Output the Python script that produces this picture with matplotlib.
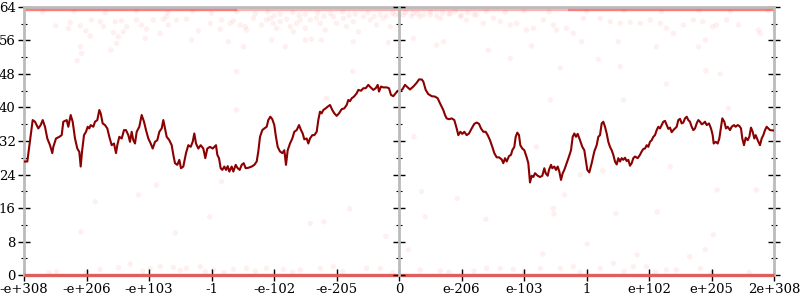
import numpy as np
import matplotlib
import matplotlib.pyplot as plt

matplotlib.use('Agg')

plt.rcParams['font.family'] = ['DejaVu Serif']

# x axis: 13 evenly spaced positions over the float bit range
tick_labels = ["-e+308", "-e+206", "-e+103", "-1", "-e-102", "-e-205", "0",
               "e-206", "e-103", "1", "e+102", "e+205", "2e+308"]

# moving average line
line_x = [0.0, 0.053, 0.139, 0.176, 0.229, 0.267, 0.299, 0.336, 0.373, 0.416, 0.453, 0.469, 0.512, 0.565,
          0.603, 0.629, 0.683, 0.709, 0.747, 0.779, 0.816, 0.853, 0.885, 0.907, 0.928, 0.96, 0.992, 1.019,
          1.045, 1.067, 1.109, 1.136, 1.173, 1.205, 1.227, 1.259, 1.296, 1.333, 1.365, 1.403, 1.44, 1.472,
          1.493, 1.525, 1.563, 1.6, 1.632, 1.669, 1.696, 1.723, 1.749, 1.776, 1.803, 1.845, 1.883, 1.92,
          1.952, 1.989, 2.027, 2.059, 2.096, 2.133, 2.165, 2.203, 2.229, 2.256, 2.283, 2.325, 2.363, 2.389,
          2.416, 2.453, 2.485, 2.512, 2.549, 2.592, 2.629, 2.667, 2.699, 2.725, 2.752, 2.789, 2.827, 2.869,
          2.901, 2.933, 2.976, 3.019, 3.072, 3.093, 3.12, 3.147, 3.173, 3.205, 3.232, 3.259, 3.285, 3.323,
          3.349, 3.387, 3.419, 3.451, 3.483, 3.515, 3.547, 3.589, 3.643, 3.685, 3.723, 3.749, 3.776, 3.813,
          3.845, 3.883, 3.909, 3.941, 3.973, 4.005, 4.027, 4.059, 4.096, 4.133, 4.165, 4.192, 4.219, 4.256,
          4.293, 4.325, 4.363, 4.4, 4.432, 4.459, 4.485, 4.523, 4.549, 4.576, 4.613, 4.645, 4.683, 4.709,
          4.736, 4.763, 4.789, 4.827, 4.859, 4.896, 4.933, 4.965, 5.003, 5.04, 5.083, 5.125, 5.163, 5.189,
          5.216, 5.243, 5.28, 5.323, 5.349, 5.392, 5.429, 5.467, 5.509, 5.547, 5.589, 5.627, 5.659, 5.68,
          5.712, 5.749, 5.803, 5.84, 5.872, 5.909, 5.947, 5.979, 6.016, 6.053, 6.096, 6.139, 6.176, 6.229,
          6.283, 6.32, 6.363, 6.389, 6.427, 6.469, 6.523, 6.576, 6.619, 6.656, 6.683, 6.709, 6.736, 6.763,
          6.8, 6.843, 6.885, 6.923, 6.949, 6.981, 7.013, 7.045, 7.083, 7.12, 7.163, 7.205, 7.243, 7.28,
          7.312, 7.349, 7.387, 7.419, 7.456, 7.493, 7.525, 7.563, 7.6, 7.643, 7.669, 7.696, 7.723, 7.76,
          7.792, 7.813, 7.845, 7.867, 7.893, 7.92, 7.941, 7.973, 8.005, 8.043, 8.069, 8.096, 8.123, 8.149,
          8.176, 8.219, 8.256, 8.293, 8.325, 8.347, 8.379, 8.4, 8.432, 8.453, 8.485, 8.512, 8.539, 8.565,
          8.592, 8.619, 8.645, 8.683, 8.72, 8.752, 8.779, 8.805, 8.832, 8.859, 8.896, 8.933, 8.965, 8.989,
          9.013, 9.045, 9.083, 9.125, 9.163, 9.189, 9.216, 9.243, 9.269, 9.296, 9.323, 9.349, 9.376, 9.403,
          9.429, 9.456, 9.483, 9.509, 9.536, 9.563, 9.589, 9.616, 9.643, 9.669, 9.696, 9.723, 9.749, 9.776,
          9.819, 9.856, 9.883, 9.909, 9.936, 9.963, 9.989, 10.016, 10.043, 10.069, 10.096, 10.123, 10.149,
          10.176, 10.203, 10.229, 10.256, 10.283, 10.309, 10.336, 10.363, 10.389, 10.416, 10.443, 10.469,
          10.496, 10.523, 10.549, 10.576, 10.603, 10.629, 10.656, 10.683, 10.709, 10.736, 10.763, 10.789,
          10.816, 10.843, 10.869, 10.896, 10.923, 10.96, 10.992, 11.019, 11.035, 11.067, 11.099, 11.125,
          11.152, 11.173, 11.205, 11.232, 11.259, 11.296, 11.323, 11.36, 11.387, 11.419, 11.445, 11.472,
          11.493, 11.52, 11.547, 11.579, 11.605, 11.632, 11.659, 11.685, 11.707, 11.739, 11.776, 11.803,
          11.829, 11.856, 11.883, 11.909, 11.936, 11.989, 12.0]
line_y = [27.1, 27.1, 37.0, 36.6, 35.0, 35.8, 37.0, 35.4, 32.6, 31.0, 29.1, 30.6, 32.6, 33.0,
          33.4, 36.6, 37.0, 35.4, 38.2, 36.6, 32.6, 30.2, 29.4, 25.9, 29.4, 33.4, 34.2, 35.4,
          35.0, 35.8, 35.4, 36.6, 37.0, 39.4, 38.6, 36.2, 35.8, 35.0, 33.0, 31.0, 31.4, 29.1,
          31.0, 33.0, 32.6, 34.6, 34.6, 33.4, 31.8, 34.2, 32.2, 31.4, 34.2, 35.4, 38.2, 36.6,
          34.6, 32.6, 31.4, 30.2, 31.8, 32.2, 34.2, 35.0, 37.0, 35.0, 33.0, 32.2, 31.0, 28.7,
          26.7, 26.3, 27.5, 25.5, 25.9, 29.1, 31.0, 30.6, 31.8, 33.8, 31.4, 30.2, 31.0, 30.2,
          27.9, 30.2, 30.6, 30.2, 31.0, 28.7, 27.9, 25.5, 25.1, 25.9, 25.1, 26.0, 24.7, 25.9,
          24.7, 26.3, 25.5, 25.1, 26.3, 26.7, 25.5, 25.6, 25.9, 26.3, 27.1, 29.5, 33.0, 34.6,
          35.0, 35.4, 37.0, 37.8, 37.2, 35.8, 33.4, 30.6, 29.5, 29.1, 29.8, 26.3, 29.8, 31.4,
          32.6, 34.2, 34.6, 35.8, 34.6, 33.8, 32.4, 32.6, 31.4, 32.6, 33.4, 33.4, 34.2, 37.0,
          39.0, 38.6, 39.4, 39.8, 40.2, 40.6, 39.4, 38.6, 38.0, 38.6, 39.6, 39.8, 40.6, 41.8,
          41.5, 42.2, 42.6, 43.4, 44.2, 44.0, 44.6, 44.6, 45.4, 44.8, 44.2, 44.6, 45.4, 43.8,
          45.0, 44.8, 44.8, 44.6, 43.0, 42.7, 43.4, 44.0, 44.0, 44.3, 45.4, 44.8, 44.3, 45.0,
          45.9, 46.7, 46.7, 46.2, 44.2, 43.2, 42.7, 42.6, 42.2, 41.0, 40.2, 39.4, 38.2, 37.4,
          37.2, 37.4, 37.0, 35.0, 33.4, 34.2, 33.7, 34.2, 33.4, 33.8, 35.0, 36.1, 36.4, 36.1,
          35.0, 34.2, 34.2, 33.4, 32.2, 30.6, 29.1, 28.1, 28.1, 27.6, 26.7, 27.9, 27.1, 28.4,
          28.7, 29.8, 30.6, 33.0, 34.0, 33.4, 31.0, 30.2, 29.8, 28.1, 26.7, 22.1, 23.7, 23.4,
          24.3, 23.7, 23.4, 23.7, 25.5, 24.3, 23.7, 25.1, 26.3, 25.5, 25.9, 25.1, 25.9, 24.7,
          22.7, 24.3, 25.1, 26.7, 28.3, 29.8, 33.0, 33.8, 33.0, 33.7, 32.2, 30.6, 29.8, 27.5,
          25.1, 24.5, 26.7, 29.5, 31.0, 33.0, 33.4, 36.2, 36.6, 35.4, 33.8, 31.8, 30.6, 29.8,
          28.7, 27.1, 26.4, 27.9, 27.1, 27.9, 27.5, 28.0, 27.2, 27.5, 26.1, 26.7, 27.9, 28.3,
          27.9, 28.7, 29.5, 30.1, 30.2, 31.0, 30.6, 31.8, 32.2, 33.0, 33.4, 34.6, 35.4,
          35.0, 35.8, 36.6, 36.8, 35.8, 34.9, 35.2, 34.1, 34.6, 35.0, 35.4, 37.0,
          37.3, 36.2, 36.4, 37.4, 37.8, 37.0, 36.6, 35.4, 34.6, 35.0, 36.2, 37.0,
          36.6, 36.0, 36.2, 36.6, 35.8, 36.2, 35.0, 33.4, 31.4, 31.8, 31.4, 32.6,
          35.4, 37.4, 36.6, 35.0, 35.4, 34.6, 35.4, 35.8, 35.4, 35.8, 35.6, 35.0,
          32.6, 31.0, 32.8, 32.2, 33.0, 35.2, 34.2, 32.6, 33.4, 32.2, 31.0, 32.6,
          33.4, 34.6, 35.4, 35.0, 34.6, 34.5, 34.5]

# individual samples near the top (high counts)
top_x = [0.51, 0.74, 0.71, 0.90, 0.99, 1.06, 1.08, 1.22, 1.27, 1.43, 1.46, 1.56, 1.59, 1.64, 1.80, 1.88,
         1.94, 1.96, 2.07, 2.23, 2.28, 2.31, 2.44, 2.60, 2.79, 2.98, 3.14, 3.16, 3.30, 3.35, 3.46, 3.54,
         3.56, 3.67, 3.80, 3.88, 3.94, 3.99, 4.04, 4.10, 4.20, 4.26, 4.31, 4.36, 4.42, 4.50, 4.58, 4.68,
         4.74, 4.82, 4.95, 5.00, 5.11, 5.16, 5.27, 5.35, 5.43, 5.54, 5.64, 5.75, 5.86, 5.94,
         6.07, 6.23, 6.34, 6.50, 6.66, 6.82, 6.98, 7.08, 7.24, 7.35, 7.51, 7.62, 7.78, 7.88, 8.04, 8.15,
         8.31, 8.47, 8.52, 8.68, 8.79, 8.95, 9.22, 9.38, 9.54, 9.70, 9.86, 10.02, 10.18, 10.28, 10.39,
         10.55, 10.71, 10.86, 11.02, 11.08, 11.24, 11.43, 11.75, 11.78,
         0.3, 0.8, 1.3, 1.8, 2.3, 2.7, 3.0, 3.4, 3.7, 3.9, 4.1, 4.3, 4.5, 4.7, 4.9, 5.1, 5.3, 5.5, 5.7,
         5.9, 6.1, 6.3, 6.5, 6.7, 6.9, 7.1, 7.4, 7.7, 8.0, 8.4, 9.0, 9.6, 10.2, 10.8, 11.3, 11.9,
         4.0, 4.4, 4.8, 5.2, 5.6, 5.8, 6.0, 6.2, 6.4, 6.6, 6.8, 7.0, 7.2]
top_y = [59.5, 60.3, 58.9, 59.5, 58.3, 57.1, 60.9, 60.5, 59.3, 57.9, 60.5, 60.7, 58.1, 59.3, 60.9, 59.7,
         56.5, 58.7, 60.9, 61.1, 61.7, 59.7, 60.9, 61.1, 58.3, 60.1, 58.7, 60.9, 60.1, 60.7, 59.7, 59.3,
         58.5, 61.3, 59.7, 60.9, 61.3, 60.1, 58.9, 60.5, 61.1, 59.3, 58.1, 60.1, 60.9, 58.9, 60.9, 61.3,
         60.1, 58.5, 61.7, 60.1, 61.3, 59.3, 60.5, 58.1, 61.7, 60.9, 59.7, 61.3, 59.3, 62.1,
         62.1, 62.5, 61.7, 62.1, 61.3, 62.5, 61.7, 60.9, 62.1, 60.1, 61.3, 60.5, 59.7, 60.1, 58.5, 58.9,
         60.9, 59.7, 58.5, 58.9, 57.7, 61.3, 61.3, 60.5, 60.1, 60.3, 60.1, 60.9, 60.1, 58.9, 57.7,
         59.7, 60.9, 60.5, 59.3, 59.7, 60.9, 59.7, 58.5, 57.7,
         62.8, 63.0, 62.6, 63.1, 62.7, 63.0, 62.5, 62.9, 62.4, 62.8, 62.3, 62.7, 62.2, 62.6, 62.4, 62.8,
         62.3, 62.6, 62.2, 62.5, 62.7, 62.4, 62.8, 62.5, 62.9, 62.6, 63.0, 62.7, 63.1, 62.8, 63.0, 63.2,
         62.9, 63.1, 63.0, 63.2,
         61.9, 62.0, 61.8, 62.0, 61.7, 61.9, 62.1, 61.8, 62.2, 61.9, 62.3, 62.0, 62.2]

# scattered outliers in the middle of the range
mid_x = [0.85, 0.92, 0.90, 1.39, 1.48, 1.51, 2.18, 2.68, 3.27, 3.40, 3.51, 3.96, 4.18, 4.50, 4.60,
         4.76, 5.27, 5.26, 5.83, 3.40, 4.84, 6.23, 6.60, 6.71, 7.43, 7.78, 8.12, 8.58, 8.92, 9.19, 9.51,
         9.54, 9.59, 10.12, 10.79, 10.90, 10.91, 11.14, 10.28, 8.42, 11.27, 6.24, 8.20,
         2.12, 1.83, 1.14, 3.16, 2.97, 0.91, 2.42, 4.58, 4.80, 5.21, 5.79, 6.36, 6.93, 6.42, 7.39, 8.47,
         8.48, 8.65, 8.90, 9.26, 9.47, 10.13, 10.34, 11.09, 11.72, 11.03, 10.90, 10.65, 9.81, 9.01, 8.30,
         6.15]
mid_y = [51.2, 52.9, 54.5, 53.7, 55.3, 56.9, 57.7, 56.1, 55.7, 48.6, 54.5, 56.1, 54.5, 56.1, 56.3,
         56.1, 55.7, 48.6, 55.5, 39.4, 42.2, 56.5, 54.9, 55.7, 53.7, 51.7, 54.7, 49.4, 55.7, 51.5, 55.7,
         49.8, 41.8, 54.5, 54.5, 56.1, 48.8, 48.0, 45.6, 41.8, 39.8, 33.0, 30.6,
         21.5, 19.1, 17.5, 22.3, 13.9, 10.3, 10.0, 12.3, 12.7, 15.8, 9.2, 19.9, 18.3, 13.9, 13.3, 15.9,
         14.6, 19.1, 23.9, 24.9, 14.7, 15.1, 25.9, 20.3, 20.3, 9.6, 6.1, 4.4, 4.8, 7.4, 5.0,
         6.0]

# samples near the bottom (low counts)
bottom_x = [1.70, 1.51, 0.52, 1.22, 2.02, 2.18, 2.39, 2.60, 2.82, 3.03, 3.35, 3.56, 3.88, 4.15, 4.42,
            4.74, 4.95, 5.48, 5.70, 6.34, 6.66, 7.40, 7.62, 7.83, 8.26, 8.58, 8.79, 9.22, 9.43, 9.75,
            9.96, 10.28, 10.44, 10.82,
            0.4, 1.0, 1.9, 2.5, 2.9, 3.2, 3.7, 4.3, 5.1, 5.9, 6.8, 7.2, 8.0, 8.9, 9.6, 10.1, 11.0, 11.6]
bottom_y = [2.6, 1.8, 0.8, 1.35, 1.6, 2.0, 1.8, 1.6, 2.0, 1.2, 1.35, 1.6, 1.6, 1.35, 1.2,
            1.6, 2.0, 1.6, 1.6, 1.2, 1.0, 1.6, 1.6, 1.35, 1.6, 1.6, 2.0, 1.6, 2.8, 2.0,
            2.0, 1.2, 1.2, 1.6,
            0.5, 0.7, 0.9, 1.1, 0.8, 0.6, 0.9, 0.7, 0.8, 0.6, 0.7, 0.9, 0.8, 0.6, 0.9, 0.7, 0.5, 0.6]

# saturated bands at the extremes
band_x = [0, 12]
top_band_y = [64, 64]
bottom_band_y = [0, 0]
top_dense = [(0, 3.4), (8.7, 12)]

fig = plt.figure(figsize=(8, 3), dpi=100)
ax = fig.add_axes([0.03, 0.0833, 0.9375, 0.8934])

red = "#ff0000"
# top band sits under the spine and is clipped by the axes
ax.plot(band_x, top_band_y, color=red, lw=6, alpha=0.3, solid_capstyle="butt", zorder=1)
for a, b in top_dense:
    ax.plot([a, b], top_band_y, color=red, lw=6, alpha=0.3, solid_capstyle="butt", zorder=1)
ax.plot(band_x, bottom_band_y, color=red, lw=2.5, alpha=0.5, solid_capstyle="butt", zorder=4, clip_on=False)

for xs, ys in [(top_x, top_y), (mid_x, mid_y), (bottom_x, bottom_y)]:
    ax.scatter(xs, ys, s=16, color=red, alpha=0.06, edgecolors="none", zorder=2)

ax.plot(line_x, line_y, color="#8b0000", lw=1.5, zorder=3)

ax.set_xlim(0, 12)
ax.set_ylim(0, 64)
ax.set_xticks(np.arange(len(tick_labels)))
ax.set_xticklabels(tick_labels)
ax.set_yticks(np.arange(0, 65, 8))
ax.set_yticks(np.arange(0, 65, 4), minor=True)

for s in ax.spines.values():
    s.set_color("#bbbbbb")
    s.set_linewidth(2)
ax.tick_params(which="both", direction="inout", left=True, right=True, bottom=True, top=False,
               labelright=False, labelsize=9.5, colors="black", pad=2)
ax.tick_params(which="major", length=8, width=1)
ax.tick_params(which="minor", length=5, width=0.8)
ax.tick_params(axis="x", which="minor", bottom=False)

# center axis at x = 0
cax = fig.add_axes(ax.get_position(), sharey=ax)
cax.patch.set_visible(False)
for name in ["top", "bottom", "right"]:
    cax.spines[name].set_visible(False)
cax.spines["left"].set_position(("axes", 0.5))
cax.spines["left"].set_color("#bbbbbb")
cax.spines["left"].set_linewidth(2)
cax.set_xticks([])
cax.tick_params(which="both", direction="inout", left=True, labelleft=False)
cax.tick_params(which="major", length=8, width=1)
cax.tick_params(which="minor", length=5, width=0.8)

fig.savefig("out.png", dpi=100)
plt.close()
